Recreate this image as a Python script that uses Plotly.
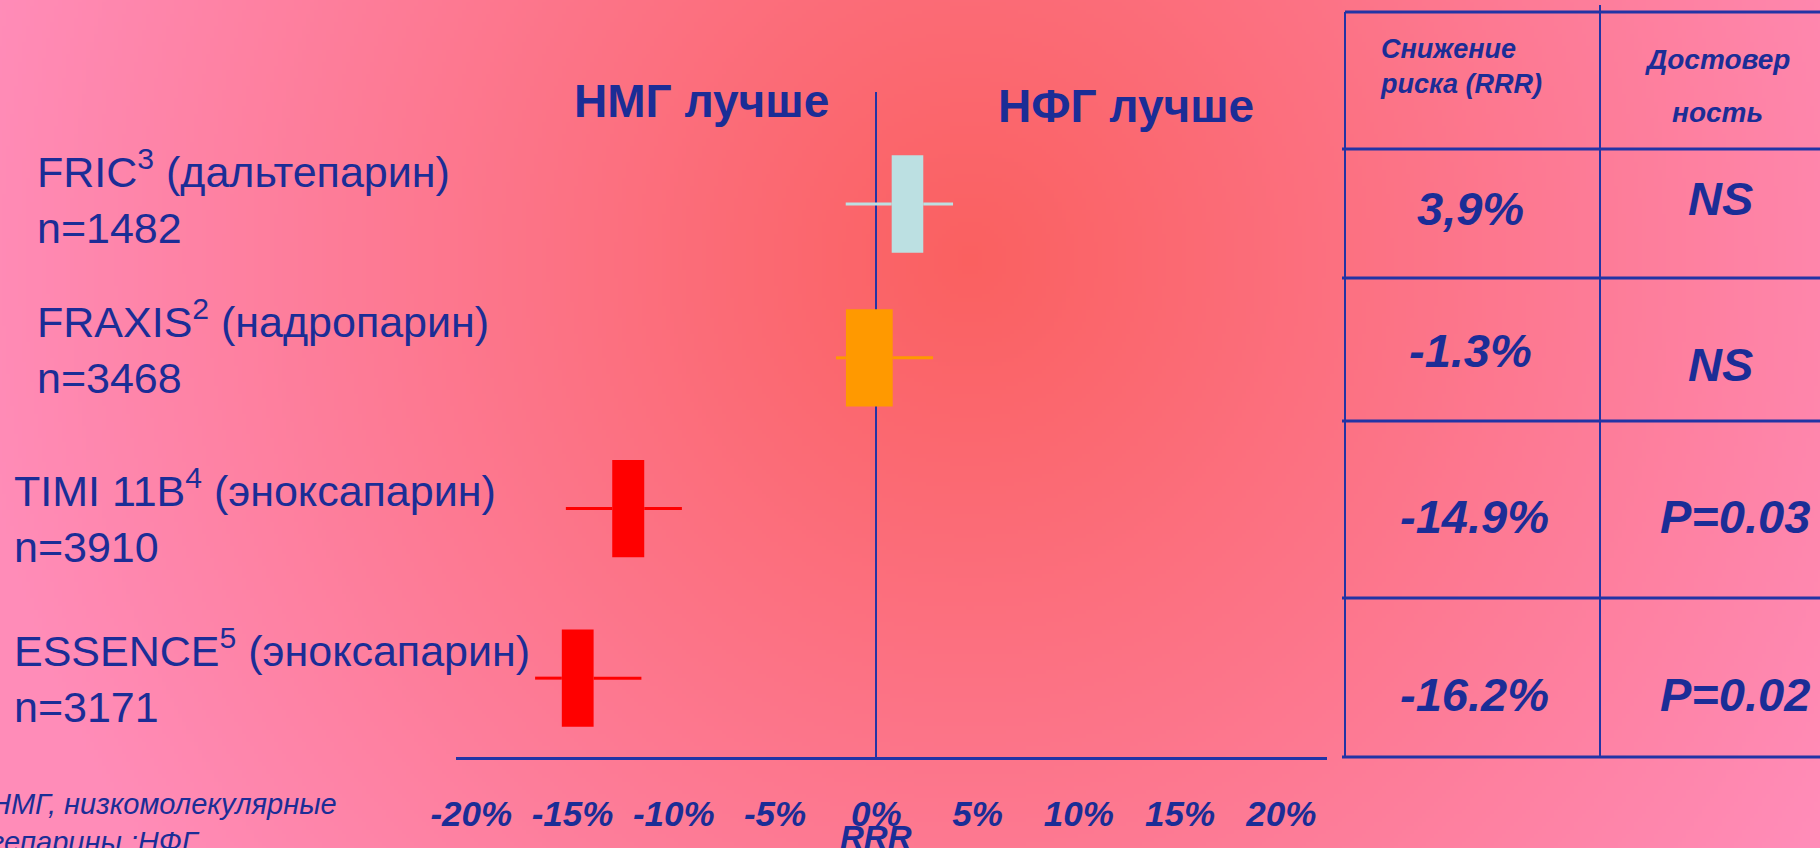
import base64
import struct
import zlib

import numpy as np
import plotly.graph_objects as go

# ---------------- data ----------------
trial_names = ["FRIC<sup>3</sup> (дальтепарин)", "FRAXIS<sup>2</sup> (надропарин)",
               "TIMI 11B<sup>4</sup> (эноксапарин)", "ESSENCE<sup>5</sup> (эноксапарин)"]
trial_n = ["n=1482", "n=3468", "n=3910", "n=3171"]
row_pos = [1.0, 1.98, 2.94, 4.02]
box_low = [0.76, -1.50, -13.04, -15.53]
box_high = [2.32, 0.81, -11.46, -13.96]
ci_low = [-1.51, -1.99, -15.33, -16.85]
ci_high = [3.79, 2.80, -9.60, -11.60]
box_colors = ["#BCE0E2", "#FF9900", "#FF0000", "#FF0000"]

tick_vals = [-20, -15, -10, -5, 0, 5, 10, 15, 20]
tick_text = ["-20%", "-15%", "-10%", "-5%", "0%", "5%", "10%", "15%", "20%"]

table_header = ["Снижение<br>риска (RRR)", "Достовер", "ность"]
rrr_text = ["3,9%", "-1.3%", "-14.9%", "-16.2%"]
sig_text = ["NS", "NS", "P=0.03", "P=0.02"]

# ---------------- layout geometry (pixels) ----------------
W, H = 1820, 848
L, R, T, B = 456, 1327, 92, 757
PW, PH = R - L, B - T


def px(x):
    return (x - L) / PW


def py(y):
    return 1 - (y - T) / PH


TXT = "rgb(27,45,150)"
LINE = "rgb(34,52,165)"
FONT = "Liberation Sans, Arial, sans-serif"


# ---------------- background gradient image ----------------
def make_png(arr):
    h, w, _ = arr.shape
    raw = b"".join(b"\x00" + arr[i].tobytes() for i in range(h))

    def chunk(tag, data):
        c = struct.pack(">I", len(data)) + tag + data
        return c + struct.pack(">I", zlib.crc32(tag + data) & 0xFFFFFFFF)

    png = (b"\x89PNG\r\n\x1a\n"
           + chunk(b"IHDR", struct.pack(">IIBBBBB", w, h, 8, 2, 0, 0, 0))
           + chunk(b"IDAT", zlib.compress(raw, 9))
           + chunk(b"IEND", b""))
    return "data:image/png;base64," + base64.b64encode(png).decode()


gw, gh = 455, 212
xs = (np.arange(gw) + 0.5) * W / gw
ys = (np.arange(gh) + 0.5) * H / gh
X, Y = np.meshgrid(xs, ys)
d = np.sqrt(((X - 970) / 1000) ** 2 + ((Y - 260) / 1050) ** 2)
t = np.clip(d, 0, 1)[..., None]
c0 = np.array([250, 96, 96], dtype=float)
c1 = np.array([255, 140, 184], dtype=float)
img = (c0 + (c1 - c0) * t).round().astype(np.uint8)
bg_src = make_png(img)

# ---------------- figure ----------------
fig = go.Figure()

# whiskers (drawn on both sides of box)
for i in range(len(row_pos)):
    fig.add_trace(go.Scatter(
        x=[ci_low[i], box_low[i], None, box_high[i], ci_high[i]],
        y=[row_pos[i], row_pos[i], None, row_pos[i], row_pos[i]],
        mode="lines", line=dict(color=box_colors[i], width=3),
        hoverinfo="skip", showlegend=False))

fig.add_trace(go.Bar(
    orientation="h",
    y=row_pos,
    x=[h - l for h, l in zip(box_high, box_low)],
    base=box_low,
    width=0.62,
    marker=dict(color=box_colors, line=dict(width=0)),
    hoverinfo="skip", showlegend=False))

annotations = []

# trial labels
label_x = [35, 35, 12, 12]
label_y = [197, 347, 516, 676]
for i in range(len(trial_names)):
    annotations.append(dict(
        x=px(label_x[i]), y=py(label_y[i]), xref="paper", yref="paper",
        xanchor="left", yanchor="middle", align="left", showarrow=False,
        text=trial_names[i] + "<br>" + trial_n[i],
        font=dict(family=FONT, size=43, color=TXT)))

# header texts
annotations.append(dict(x=px(701), y=py(101), xref="paper", yref="paper",
                        xanchor="center", yanchor="middle", showarrow=False,
                        text="<b>НМГ лучше</b>",
                        font=dict(family=FONT, size=46, color=TXT)))
annotations.append(dict(x=px(1126), y=py(106), xref="paper", yref="paper",
                        xanchor="center", yanchor="middle", showarrow=False,
                        text="<b>НФГ лучше</b>",
                        font=dict(family=FONT, size=46, color=TXT)))

# RRR axis title
annotations.append(dict(x=0, y=py(837), xref="x", yref="paper",
                        xanchor="center", yanchor="middle", showarrow=False,
                        text="<b><i>RRR</i></b>",
                        font=dict(family=FONT, size=33, color=TXT)))

# footnote
annotations.append(dict(x=px(-12), y=py(823), xref="paper", yref="paper",
                        xanchor="left", yanchor="middle", align="left", showarrow=False,
                        text="<i>НМГ, низкомолекулярные<br>гепарины,;НФГ,</i>",
                        font=dict(family=FONT, size=29, color=TXT)))

# table headers
annotations.append(dict(x=px(1378), y=py(66), xref="paper", yref="paper",
                        xanchor="left", yanchor="middle", align="left", showarrow=False,
                        text="<b><i>" + table_header[0] + "</i></b>",
                        font=dict(family=FONT, size=27, color=TXT)))
annotations.append(dict(x=px(1717), y=py(60), xref="paper", yref="paper",
                        xanchor="center", yanchor="middle", showarrow=False,
                        text="<b><i>" + table_header[1] + "</i></b>",
                        font=dict(family=FONT, size=28, color=TXT)))
annotations.append(dict(x=px(1717), y=py(112), xref="paper", yref="paper",
                        xanchor="center", yanchor="middle", showarrow=False,
                        text="<b><i>" + table_header[2] + "</i></b>",
                        font=dict(family=FONT, size=28, color=TXT)))

# table cells
rrr_x = [1470, 1470, 1474, 1474]
rrr_y = [208, 350, 516, 694]
sig_x = [1720, 1720, 1735, 1735]
sig_y = [198, 365, 516, 694]
for i in range(len(rrr_text)):
    annotations.append(dict(x=px(rrr_x[i]), y=py(rrr_y[i]), xref="paper", yref="paper",
                            xanchor="center", yanchor="middle", showarrow=False,
                            text="<b><i>" + rrr_text[i] + "</i></b>",
                            font=dict(family=FONT, size=47, color=TXT)))
    annotations.append(dict(x=px(sig_x[i]), y=py(sig_y[i]), xref="paper", yref="paper",
                            xanchor="center", yanchor="middle", showarrow=False,
                            text="<b><i>" + sig_text[i] + "</i></b>",
                            font=dict(family=FONT, size=47, color=TXT)))

# table lines
shapes = []
shapes.append(dict(type="line", xref="paper", yref="paper",
                   x0=px(1345), x1=px(1825), y0=py(12), y1=py(12),
                   line=dict(color=LINE, width=3)))
for yl in [149, 278, 421, 598, 757]:
    shapes.append(dict(type="line", xref="paper", yref="paper",
                       x0=px(1342), x1=px(1825), y0=py(yl), y1=py(yl),
                       line=dict(color=LINE, width=3)))
shapes.append(dict(type="line", xref="paper", yref="paper",
                   x0=px(1345), x1=px(1345), y0=py(12), y1=py(758),
                   line=dict(color=LINE, width=2)))
shapes.append(dict(type="line", xref="paper", yref="paper",
                   x0=px(1600), x1=px(1600), y0=py(5), y1=py(758),
                   line=dict(color=LINE, width=2)))

fig.update_layout(
    width=W, height=H,
    margin=dict(l=L, r=W - R, t=T, b=H - B, pad=0),
    paper_bgcolor="rgb(252,110,120)",
    plot_bgcolor="rgba(0,0,0,0)",
    showlegend=False,
    annotations=annotations,
    shapes=shapes,
    images=[dict(source=bg_src, xref="paper", yref="paper",
                 x=px(0), y=py(0), sizex=W / PW, sizey=H / PH,
                 xanchor="left", yanchor="top", sizing="stretch", layer="below")],
    xaxis=dict(range=[(L - 876.3) / 20.25, (R - 876.3) / 20.25],
               tickvals=tick_vals, ticktext=tick_text,
               tickfont=dict(family=FONT, size=35, color=TXT, weight="bold", style="italic"),
               ticks="", ticklabelstandoff=24,
               showgrid=False, zeroline=True, zerolinecolor=LINE, zerolinewidth=2,
               showline=True, linecolor=LINE, linewidth=3, fixedrange=True),
    yaxis=dict(range=[1 + (B - 204) / 157, 1 - (204 - T) / 157],
               visible=False, showgrid=False, zeroline=False, fixedrange=True),
    hovermode=False,
)

fig.write_html("out.html", config=dict(displayModeBar=False))
